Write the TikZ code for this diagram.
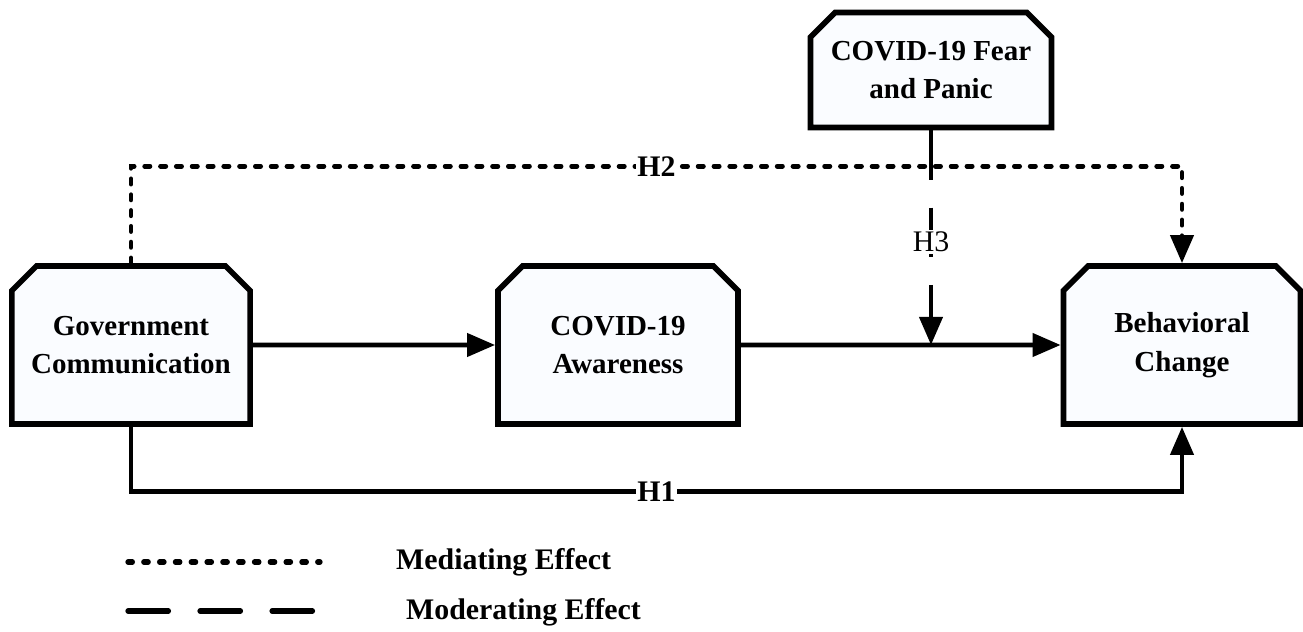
\documentclass[tikz,border=0pt]{standalone}
\usepackage{fontspec}
\setmainfont{Liberation Serif}
\usepackage{tikz}
\usetikzlibrary{arrows.meta, shapes.misc, calc}
\definecolor{boxFill}{RGB}{250,252,255}
\tikzset{
  varbox/.style={chamfered rectangle, chamfered rectangle corners={north west, north east},
    chamfered rectangle xsep=11pt, chamfered rectangle angle=45,
    draw, line width=3.2pt, fill=boxFill, align=center, inner sep=0pt,
    font=\fontsize{16.5}{22}\selectfont\bfseries},
  effect/.style={line width=2.7pt, -{Triangle[length=16pt, width=13pt]}},
  mediate/.style={effect, line cap=round, dash pattern=on 3pt off 6pt},
  moderate/.style={effect, dash pattern=on 28pt off 16pt},
  hyp/.style={fill=white, inner sep=1pt, font=\fontsize{17}{20}\selectfont\bfseries},
  legtext/.style={anchor=west, font=\fontsize{17}{20}\selectfont\bfseries}
}

\begin{document}
\begin{tikzpicture}[x=0.02cm, y=-0.02cm]

  \useasboundingbox (0,0) rectangle (1303,632);

  % variables
  \node [varbox, minimum width=238*0.02cm, minimum height=158*0.02cm] (gov) at (131,345) {Government\\Communication};
  \node [varbox, minimum width=240*0.02cm, minimum height=158*0.02cm] (aware) at (618,345) {COVID-19\\Awareness};
  \node [varbox, minimum width=237*0.02cm, minimum height=158*0.02cm] (beh) at (1182,345) {Behavioral\\Change};
  \node [varbox, minimum width=241*0.02cm, minimum height=115*0.02cm] (fear) at (931,70) {COVID-19 Fear\\and Panic};

  % paths
  \draw [effect] (gov) -- (aware);
  \draw [effect] (aware) -- (beh);
  \draw [effect] (gov.south) -- ++(0,65) -| node[pos=0.25, hyp] (h1) {H1} (beh.south);
  \draw [mediate] (gov.north) -- ++(0,-97) -| node[pos=0.25, hyp] (h2) {H2} (beh.north);
  \draw [moderate] (fear.south) -- node[pos=0.52, hyp, font=\fontsize{17}{20}\selectfont] (h3) {H3} (fear.south |- aware.east);

  % legend
  \coordinate (medA) at (128,562);
  \coordinate (medB) at (320,562);
  \coordinate (modA) at (128,611);
  \coordinate (modB) at (320,611);
  \draw [line width=3pt, line cap=round, dash pattern=on 2.5pt off 6.5pt] (medA) -- (medB);
  \draw [line width=3pt, line cap=round, dash pattern=on 23pt off 18pt] (modA) -- (modB);
  \node [legtext] (medtxt) at (390,562) {Mediating Effect};
  \node [legtext] (modtxt) at (400,612) {Moderating Effect};
\end{tikzpicture}
\end{document}
